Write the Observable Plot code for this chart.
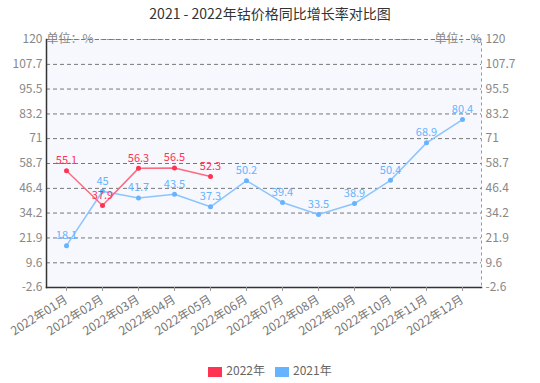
<!DOCTYPE html>
<html><head><meta charset="utf-8">
<script src="https://cdn.jsdelivr.net/npm/d3@7"></script>
<script src="https://cdn.jsdelivr.net/npm/@observablehq/plot@0.6"></script>
<style>
body{margin:0;background:#fff;font-family:"Noto Sans CJK SC",sans-serif;}
#title{height:26px;line-height:26px;text-align:center;font-size:14px;color:#333;}
#legend{height:27px;display:flex;justify-content:center;align-items:center;font-size:12px;color:#666;gap:10px;}
.sw{display:inline-block;width:14px;height:10px;margin-right:4px;vertical-align:middle;}
</style></head>
<body>
<div id="title">2021 - 2022年钴价格同比增长率对比图</div>
<div id="chart"></div>
<div id="legend"></div>
<script>
const months = ["2022年01月","2022年02月","2022年03月","2022年04月","2022年05月","2022年06月","2022年07月","2022年08月","2022年09月","2022年10月","2022年11月","2022年12月"];
const values2022 = [55.1, 37.9, 56.3, 56.5, 52.3];
const values2021 = [18.1, 45, 41.7, 43.5, 37.3, 50.2, 39.4, 33.5, 38.9, 50.4, 68.9, 80.4];
const yTicks = [-2.6, 9.6, 21.9, 34.2, 46.4, 58.7, 71, 83.2, 95.5, 107.7, 120];
const seriesNames = ["2022年", "2021年"];
const colors = {"2022年": "#ff3352", "2021年": "#66b3ff"};
const lineColors = {"2022年": "#ff6a80", "2021年": "#8cc4ff"};
const unitLabel = "单位：%";

const d22 = values2022.map((v,i)=>({month: months[i], value: v, series: "2022年"}));
const d21 = values2021.map((v,i)=>({month: months[i], value: v, series: "2021年"}));

const chart = Plot.plot({
  width: 540, height: 330,
  marginTop: 13, marginBottom: 69, marginLeft: 46, marginRight: 59,
  style: {fontFamily: '"Noto Sans CJK SC", sans-serif', fontSize: "12px", background: "transparent"},
  x: {type: "point", domain: months, padding: 0.5, label: null},
  y: {domain: [-2.6, 120], label: null},
  marks: [
    Plot.frame({fill: "#f7f8fe", stroke: "#999", strokeDasharray: "3,3"}),
    Plot.gridY(yTicks.slice(1), {stroke: "#777", strokeOpacity: 1, strokeDasharray: "4,3"}),
    Plot.frame({anchor: "left", stroke: "#333", strokeWidth: 1.5}),
    Plot.frame({anchor: "bottom", stroke: "#333", strokeWidth: 1.5}),
    Plot.axisY({anchor: "left", ticks: yTicks, tickSize: 0, tickPadding: 4, tickFormat: d => String(d), fill: "#888", fontSize: 12, label: null}),
    Plot.axisY({anchor: "right", ticks: yTicks, tickSize: 0, tickPadding: 4, tickFormat: d => String(d), fill: "#888", fontSize: 12, label: null}),
    Plot.axisX({tickRotate: -32, tickSize: 4, stroke: "#999", fill: "#777", fontSize: 12, label: null, tickPadding: 7}),
    Plot.lineY(d21, {x: "month", y: "value", stroke: lineColors["2021年"], strokeWidth: 1.5}),
    Plot.lineY(d22, {x: "month", y: "value", stroke: lineColors["2022年"], strokeWidth: 1.5}),
    Plot.dot(d21, {x: "month", y: "value", r: 2.5, fill: colors["2021年"]}),
    Plot.dot(d22, {x: "month", y: "value", r: 2.5, fill: colors["2022年"]}),
    Plot.text(d21, {x: "month", y: "value", text: d => String(d.value), dy: -10, fill: colors["2021年"], fontSize: 11}),
    Plot.text(d22, {x: "month", y: "value", text: d => String(d.value), dy: -10, fill: colors["2022年"], fontSize: 11}),
    Plot.text([unitLabel], {frameAnchor: "top-left", textAnchor: "start", dy: -5, fill: "#888", fontSize: 12}),
    Plot.text([unitLabel], {frameAnchor: "top-right", textAnchor: "end", dy: -5, fill: "#888", fontSize: 12})
  ]
});
document.getElementById("chart").appendChild(chart);

const lg = document.getElementById("legend");
seriesNames.forEach(s => {
  const item = document.createElement("span");
  item.innerHTML = `<span class="sw" style="background:${colors[s]}"></span>${s}`;
  lg.appendChild(item);
});
</script>
</body></html>
